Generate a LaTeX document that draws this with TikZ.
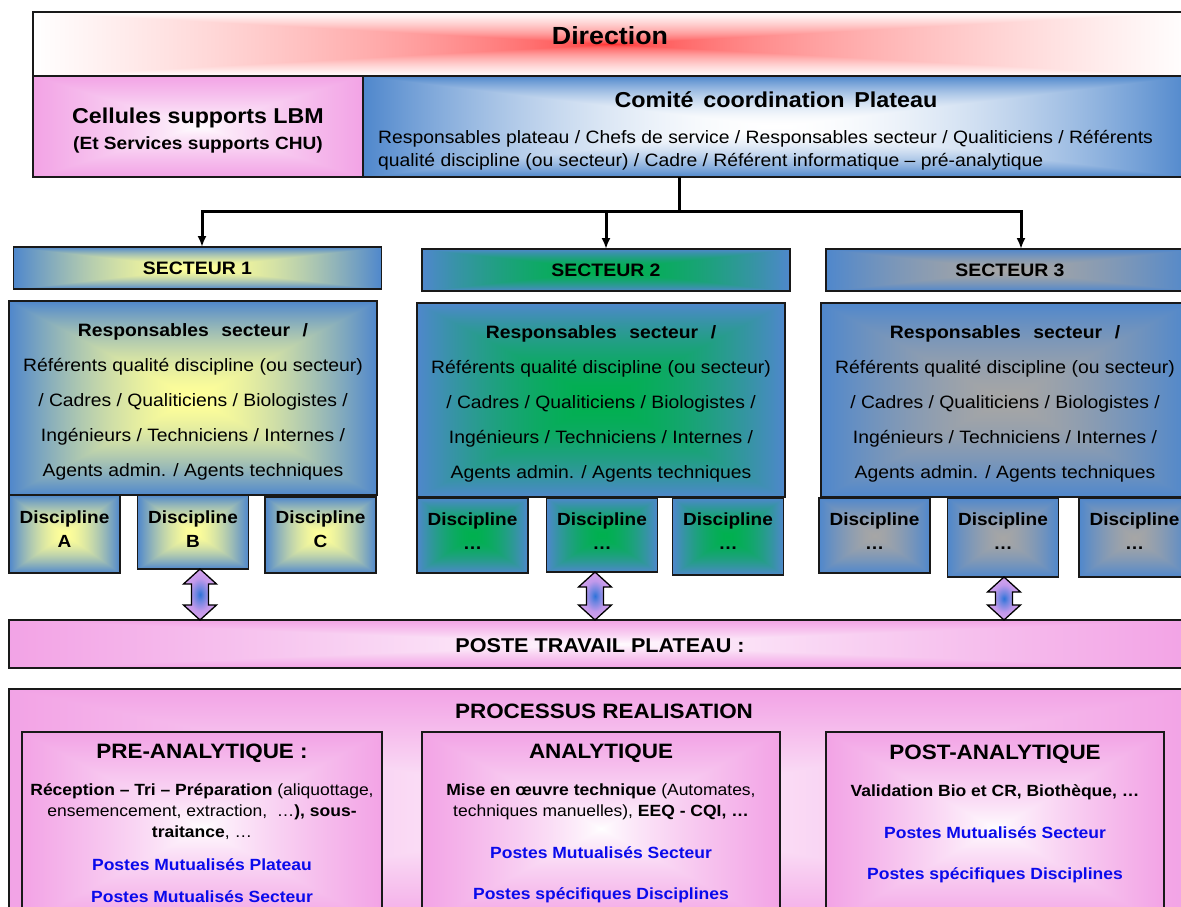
\documentclass[tikz,border=0pt]{standalone}
\usepackage{fontspec}
\setmainfont{Liberation Sans}[FakeStretch=1.08]
\usetikzlibrary{arrows.meta,calc}

\definecolor{txtblue}{RGB}{10,10,235}
\definecolor{edge}{RGB}{25,25,25}

% Rectangular "path" gradient: inner colour at the centre, outer colour on the border.
% #1 name, #2-#4 inner rgb, #5-#7 outer rgb, #8 exponent of the blend
\newcommand\rectgrad[8]{%
  \pgfdeclarefunctionalshading{#1}{\pgfpoint{0bp}{0bp}}{\pgfpoint{100bp}{100bp}}{}{%
    50 sub abs 25 div exch 50 sub abs 25 div
    2 copy lt {exch} if pop
    dup 1 gt {pop 1} if
    #8 exp
    dup dup
    #5 #2 sub mul #2 add
    3 1 roll
    #6 #3 sub mul #3 add
    exch
    #7 #4 sub mul #4 add
  }}

\rectgrad{gdir}{1}{0.15}{0.15}{1}{1}{1}{0.55}
\rectgrad{gpink}{1}{1}{1}{0.95}{0.64}{0.9}{0.8}
\rectgrad{gcom}{1}{1}{1}{0.31}{0.53}{0.80}{1.8}
\rectgrad{gyel}{1}{1}{0.6}{0.31}{0.53}{0.80}{1.6}
\rectgrad{ggrn}{0}{0.69}{0.31}{0.31}{0.53}{0.80}{1.7}
\rectgrad{ggry}{0.65}{0.65}{0.65}{0.31}{0.53}{0.80}{1.5}

% blue core fading into lavender, for the two-way block arrows
\pgfdeclareradialshading{arrowgrad}{\pgfpoint{0bp}{0bp}}{%
  rgb(0bp)=(0.18,0.45,0.85);
  rgb(6bp)=(0.42,0.52,0.88);
  rgb(16bp)=(0.76,0.6,0.92);
  rgb(25bp)=(0.84,0.64,0.93);
  rgb(50bp)=(0.84,0.64,0.93)}

% Double-headed block arrow between two nodes
\newcommand\dblarrow[3]{%
  \path[dbl] let \p1=([xshift=#3]#1.south), \p2=([xshift=#3]#2.north) in
    (\x1,\y1) -- (\x1+16.5pt,\y1-15pt) -- (\x1+8.5pt,\y1-15pt)
    -- (\x1+8.5pt,\y2+15pt) -- (\x1+16.5pt,\y2+15pt) -- (\x1,\y2)
    -- (\x1-16.5pt,\y2+15pt) -- (\x1-8.5pt,\y2+15pt)
    -- (\x1-8.5pt,\y1-15pt) -- (\x1-16.5pt,\y1-15pt) -- cycle;}

\begin{document}
\begin{tikzpicture}[x=1pt,y=-1pt,
  box/.style={draw=edge, line width=1.4pt, rectangle, inner sep=0pt, outer sep=0pt},
  secbox/.style={box, minimum width=368pt, minimum height=42pt,
    font=\fontsize{18}{20}\selectfont\bfseries},
  respbox/.style={box, minimum width=368pt, minimum height=194pt},
  resptxt/.style={inner sep=0pt, align=center, font=\fontsize{17.9}{35}\selectfont},
  discbox/.style={box, minimum width=111pt},
  disctxt/.style={inner sep=0pt, align=center, font=\fontsize{17.6}{24}\selectfont\bfseries},
  body/.style={inner sep=0pt, font=\fontsize{17.9}{21}\selectfont},
  small/.style={inner sep=0pt, font=\fontsize{16.2}{20}\selectfont},
  smallblue/.style={small, text=txtblue, font=\fontsize{16.2}{20}\selectfont\bfseries},
  phase/.style={inner sep=0pt, font=\fontsize{20.8}{24}\selectfont\bfseries},
  conn/.style={line width=3pt, draw=black},
  tip/.style={-{Latex[length=11pt,width=9pt]}},
  dbl/.style={draw=black, line width=1.3pt, line join=miter, shading=arrowgrad}
]
\path[use as bounding box, clip] (0,0) rectangle (1181,906);

% ---------- top band ----------
\node[box, shading=gdir, minimum width=1157pt, minimum height=64pt] (dir) at (611.5,44) {};
\node[inner sep=0pt, font=\fontsize{24.8}{28}\selectfont\bfseries] (tdir) at (610,35.5) {Direction};

\node[box, shading=gpink, minimum width=330pt, minimum height=101pt] (cell) at (198,126.5) {};
\node[inner sep=0pt, font=\fontsize{21.5}{24}\selectfont\bfseries] (tcell1) at (198,118) {Cellules supports LBM};
\node[inner sep=0pt, font=\fontsize{17.7}{20}\selectfont\bfseries] (tcell2) at (198,144.5) {(Et Services supports CHU)};

\node[box, shading=gcom, minimum width=827pt, minimum height=101pt] (com) at (776.5,126.5) {};
\node[inner sep=0pt, font=\fontsize{21.6}{24}\selectfont\bfseries] (tcom) at (776,100)
  {Comité\hspace{0.15em} coordination\hspace{0.15em} Plateau};
\node[body, anchor=west] (tcom1) at (378,138.5)
  {Responsables plateau / Chefs de service / Responsables secteur / Qualiticiens / Référents};
\node[body, anchor=west] (tcom2) at (378,161.5)
  {qualité discipline (ou secteur) / Cadre / Référent informatique – pré-analytique};

% ---------- links to the sectors ----------
\coordinate (hub) at (679,211);
\draw[conn] (com.south -| hub) -- (hub);

% ---------- sectors ----------
\node[secbox, shading=gyel] (sec1) at (197.5,268) {SECTEUR 1};
\node[secbox, shading=ggrn] (sec2) at (606,270) {SECTEUR 2};
\node[secbox, shading=ggry] (sec3) at (1010,270) {SECTEUR 3};

\draw[conn, tip] (hub) -| ([xshift=4.5pt]sec1.north);
\draw[conn, tip] (hub) -| (sec2.north);
\draw[conn, tip] (hub) -| ([xshift=11pt]sec3.north);

% disciplines of sector 1
\node[discbox, shading=gyel, minimum height=78pt] (d1a) at (64.5,534) {};
\node[discbox, shading=gyel, minimum height=74pt] (d1b) at (193,532) {};
\node[discbox, shading=gyel, minimum height=76pt] (d1c) at (320.5,535) {};
% disciplines of sector 2
\node[discbox, shading=ggrn, minimum height=75pt] (d2a) at (472.5,535.5) {};
\node[discbox, shading=ggrn, minimum height=74pt] (d2b) at (602,535) {};
\node[discbox, shading=ggrn, minimum height=77pt] (d2c) at (728,536.5) {};
% disciplines of sector 3
\node[discbox, shading=ggry, minimum height=75pt] (d3a) at (874.5,535.5) {};
\node[discbox, shading=ggry, minimum height=79pt] (d3b) at (1003,537.5) {};
\node[discbox, shading=ggry, minimum height=79pt] (d3c) at (1134.5,537.5) {};

\node[disctxt] (td1a) at (64.5,529) {Discipline\\A};
\node[disctxt] (td1b) at (193,529) {Discipline\\B};
\node[disctxt] (td1c) at (320.5,529) {Discipline\\C};
\node[disctxt] (td2a) at (472.5,531) {Discipline\\…};
\node[disctxt] (td2b) at (602,531) {Discipline\\…};
\node[disctxt] (td2c) at (728,531) {Discipline\\…};
\node[disctxt] (td3a) at (874.5,531) {Discipline\\…};
\node[disctxt] (td3b) at (1003,531) {Discipline\\…};
\node[disctxt] (td3c) at (1134.5,531) {Discipline\\…};

% staff of each sector
\node[respbox, shading=gyel] (r1) at (193,398) {};
\node[respbox, shading=ggrn] (r2) at (601,400) {};
\node[respbox, shading=ggry] (r3) at (1005,400) {};
\node[resptxt] (tr1) at (193,401.5)
  {\textbf{Responsables\hspace{0.4em} secteur\hspace{0.4em} /}\\Référents qualité discipline (ou secteur)\\/ Cadres / Qualiticiens / Biologistes /\\Ingénieurs / Techniciens / Internes /\\Agents admin. / Agents techniques};
\node[resptxt] (tr2) at (601,403.5)
  {\textbf{Responsables\hspace{0.4em} secteur\hspace{0.4em} /}\\Référents qualité discipline (ou secteur)\\/ Cadres / Qualiticiens / Biologistes /\\Ingénieurs / Techniciens / Internes /\\Agents admin. / Agents techniques};
\node[resptxt] (tr3) at (1005,403.5)
  {\textbf{Responsables\hspace{0.4em} secteur\hspace{0.4em} /}\\Référents qualité discipline (ou secteur)\\/ Cadres / Qualiticiens / Biologistes /\\Ingénieurs / Techniciens / Internes /\\Agents admin. / Agents techniques};

% ---------- shared workstation ----------
\node[box, shading=gpink, minimum width=1181pt, minimum height=48pt] (poste) at (599.5,644) {};
\node[inner sep=0pt, font=\fontsize{20}{22}\selectfont\bfseries] (tposte) at (600,646) {POSTE TRAVAIL PLATEAU :};

\dblarrow{d1b}{poste}{7pt}
\dblarrow{d2b}{poste}{-7pt}
\dblarrow{d3b}{poste}{1pt}

% ---------- production process ----------
\node[box, shading=gpink, minimum width=1181pt, minimum height=246pt] (proc) at (599.5,812) {};
\node[inner sep=0pt, font=\fontsize{20.8}{23}\selectfont\bfseries] (tproc) at (604,711.5) {PROCESSUS REALISATION};

\node[box, shading=gpink, minimum width=360pt, minimum height=193pt] (pre) at (202,828.5) {};
\node[box, shading=gpink, minimum width=358pt, minimum height=193pt] (ana) at (601,828.5) {};
\node[box, shading=gpink, minimum width=338pt, minimum height=193pt] (post) at (995,828.5) {};

\node[phase] (tpre) at (202,753.5) {PRE-ANALYTIQUE :};
\node[small] (pre1) at (202,791) {\textbf{Réception – Tri – Préparation} (aliquottage,};
\node[small] (pre2) at (202,812) {ensemencement, extraction,\ \ …\textbf{), sous-}};
\node[small] (pre3) at (202,833) {\textbf{traitance}, …};
\node[smallblue] (pre4) at (202,865) {Postes Mutualisés Plateau};
\node[smallblue] (pre5) at (202,897) {Postes Mutualisés Secteur};

\node[phase] (tana) at (601,753.5) {ANALYTIQUE};
\node[small] (ana1) at (601,791) {\textbf{Mise en œuvre technique} (Automates,};
\node[small] (ana2) at (601,812) {techniques manuelles), \textbf{EEQ - CQI, …}};
\node[smallblue] (ana3) at (601,853) {Postes Mutualisés Secteur};
\node[smallblue] (ana4) at (601,895) {Postes spécifiques Disciplines};

\node[phase] (tpost) at (995,754.5) {POST-ANALYTIQUE};
\node[small] (post1) at (995,792) {\textbf{Validation Bio et CR, Biothèque, …}};
\node[smallblue] (post2) at (995,833) {Postes Mutualisés Secteur};
\node[smallblue] (post3) at (995,875) {Postes spécifiques Disciplines};
\end{tikzpicture}
\end{document}
